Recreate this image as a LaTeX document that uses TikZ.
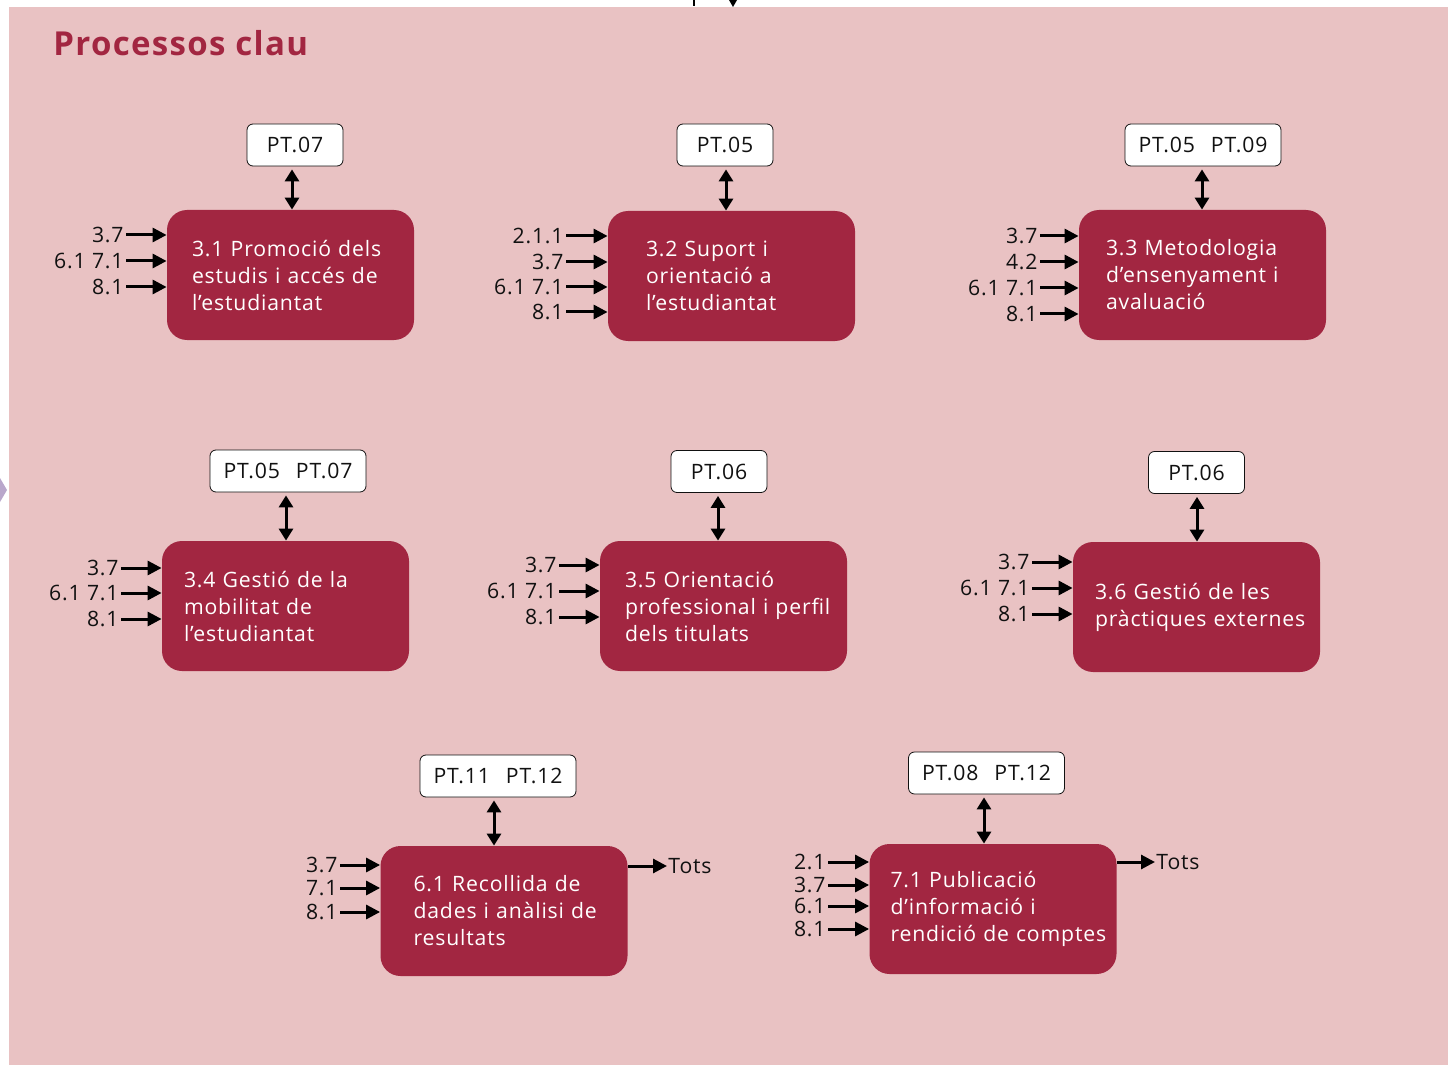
\documentclass[tikz,border=0pt]{standalone}
\usepackage{fontspec}
\setmainfont{Open Sans}[LetterSpace=4]
\newfontfamily\titlefont{Open Sans}[LetterSpace=4]
\usetikzlibrary{arrows.meta,positioning}
\definecolor{pagebg}{HTML}{E9C2C3}
\definecolor{procred}{HTML}{A22641}
\definecolor{navlila}{HTML}{B9A7CB}
\definecolor{textdark}{HTML}{111111}
\newcommand{\nohyph}{\hyphenpenalty=10000\relax\exhyphenpenalty=10000\relax}

\tikzset{
  procbox/.style={fill=procred,text=white,rounded corners=10pt,inner sep=0pt,
    minimum width=123.5pt,minimum height=65pt,text width=#1,align=left,
    font=\fontsize{10.6}{13.5}\selectfont\nohyph},
  ptbox/.style={draw=textdark,fill=white,rounded corners=3pt,inner sep=0pt,
    minimum height=21pt,text=textdark,font=\fontsize{10.6}{12}\selectfont},
  inlbl/.style={anchor=east,inner sep=1pt,text=textdark,font=\fontsize{10.6}{12}\selectfont},
  outlbl/.style={anchor=west,inner sep=0.5pt,text=textdark,font=\fontsize{10.6}{12}\selectfont},
  inarrow/.style={line width=1.5pt,draw=black,-{Triangle[length=7pt,width=7pt]}},
  linkarrow/.style={line width=1.5pt,draw=black,
    {Triangle[length=6pt,width=7pt]}-{Triangle[length=6pt,width=7pt]}}
}

\begin{document}
\begin{tikzpicture}[x=0.5pt,y=-0.5pt]
  \useasboundingbox (0,0) rectangle (1448,1065);
  \fill[pagebg] (9,7) rectangle (1448,1065);
  % cut-off pieces of the neighbouring page
  \draw[line width=1pt] (694,0) -- (694,6);
  \fill (729,0) -- (737,0) -- (733,7) -- cycle;
  \fill[navlila] (0,478) -- (7,490) -- (0,502) -- cycle;

  \node[anchor=base west,inner sep=0pt,text=procred,font=\titlefont\bfseries\fontsize{16.5}{18}\selectfont]
    (title) at (53,56) {Processos clau};

  % processes
  \node[procbox=98.5pt] (p31) at (290.5,275) {3.1~Promoció~dels\\estudis~i~accés~de\\l’estudiantat};
  \node[procbox=85.5pt] (p32) at (731.5,276) {3.2~Suport~i\\orientació~a\\l’estudiantat};
  \node[procbox=96.5pt] (p33) at (1202.5,275) {3.3~Metodologia\\d’ensenyament~i\\avaluació};
  \node[procbox=101.5pt] (p34) at (285.5,606) {3.4~Gestió~de~la\\mobilitat~de\\l’estudiantat};
  \node[procbox=98.5pt] (p35) at (723.5,606) {3.5~Orientació\\professional~i~perfil\\dels~titulats};
  \node[procbox=101.5pt] (p36) at (1196.5,607) {3.6~Gestió~de~les\\pràctiques~externes};
  \node[procbox=90.5pt] (p61) at (504,911) {6.1~Recollida~de\\dades~i~anàlisi~de\\resultats};
  \node[procbox=102.5pt] (p71) at (993,909) {7.1~Publicació\\d’informació~i\\rendició~de~comptes};

  % linked procedures
  \node[ptbox,minimum width=48pt] (t31) at (295,145) {PT.07};
  \node[ptbox,minimum width=48pt] (t32) at (725,145) {PT.05};
  \node[ptbox,minimum width=78pt] (t33) at (1203,145) {PT.05\hspace{8pt}PT.09};
  \node[ptbox,minimum width=78pt] (t34) at (288,471) {PT.05\hspace{8pt}PT.07};
  \node[ptbox,minimum width=48pt] (t35) at (719,471.5) {PT.06};
  \node[ptbox,minimum width=48pt] (t36) at (1196.5,472.5) {PT.06};
  \node[ptbox,minimum width=78pt] (t61) at (498,776) {PT.11\hspace{8pt}PT.12};
  \node[ptbox,minimum width=78pt] (t71) at (986.5,773) {PT.08\hspace{8pt}PT.12};

  \foreach \t/\p/\xx in {t31/p31/292,t32/p32/726,t33/p33/1202,t34/p34/286,
                         t35/p35/718,t36/p36/1197,t61/p61/494,t71/p71/984}
    \draw[linkarrow] ([yshift=-1.5pt]\xx,0 |- \t.south) -- (\xx,0 |- \p.north);

  % inputs
  \foreach \lbl/\yy [count=\i] in {3.7/235,{6.1 7.1}/261,8.1/287} {
    \node[inlbl] (a31\i) at (126,\yy) {\lbl};
    \draw[inarrow] (a31\i.east) -- (a31\i.east -| p31.west);
  }
  \foreach \lbl/\yy [count=\i] in {2.1.1/236,3.7/262,{6.1 7.1}/287,8.1/312} {
    \node[inlbl] (a32\i) at (566,\yy) {\lbl};
    \draw[inarrow] (a32\i.east) -- (a32\i.east -| p32.west);
  }
  \foreach \lbl/\yy [count=\i] in {3.7/236,4.2/262,{6.1 7.1}/288,8.1/314} {
    \node[inlbl] (a33\i) at (1040,\yy) {\lbl};
    \draw[inarrow] (a33\i.east) -- (a33\i.east -| p33.west);
  }
  \foreach \lbl/\yy [count=\i] in {3.7/568,{6.1 7.1}/593,8.1/619} {
    \node[inlbl] (a34\i) at (121,\yy) {\lbl};
    \draw[inarrow] (a34\i.east) -- (a34\i.east -| p34.west);
  }
  \foreach \lbl/\yy [count=\i] in {3.7/565,{6.1 7.1}/591,8.1/617} {
    \node[inlbl] (a35\i) at (559,\yy) {\lbl};
    \draw[inarrow] (a35\i.east) -- (a35\i.east -| p35.west);
  }
  \foreach \lbl/\yy [count=\i] in {3.7/562,{6.1 7.1}/588,8.1/614} {
    \node[inlbl] (a36\i) at (1032,\yy) {\lbl};
    \draw[inarrow] (a36\i.east) -- (a36\i.east -| p36.west);
  }
  \foreach \lbl/\yy [count=\i] in {3.7/865,7.1/888,8.1/912} {
    \node[inlbl] (a61\i) at (340,\yy) {\lbl};
    \draw[inarrow] (a61\i.east) -- (a61\i.east -| p61.west);
  }
  \foreach \lbl/\yy [count=\i] in {2.1/862,3.7/885,6.1/906,8.1/929} {
    \node[inlbl] (a71\i) at (828,\yy) {\lbl};
    \draw[inarrow] (a71\i.east) -- (a71\i.east -| p71.west);
  }

  % outputs
  \node[outlbl] (o61) at (667,866) {Tots};
  \draw[inarrow] (o61.west -| p61.east) -- (o61.west);
  \node[outlbl] (o71) at (1155,862) {Tots};
  \draw[inarrow] (o71.west -| p71.east) -- (o71.west);
\end{tikzpicture}
\end{document}
